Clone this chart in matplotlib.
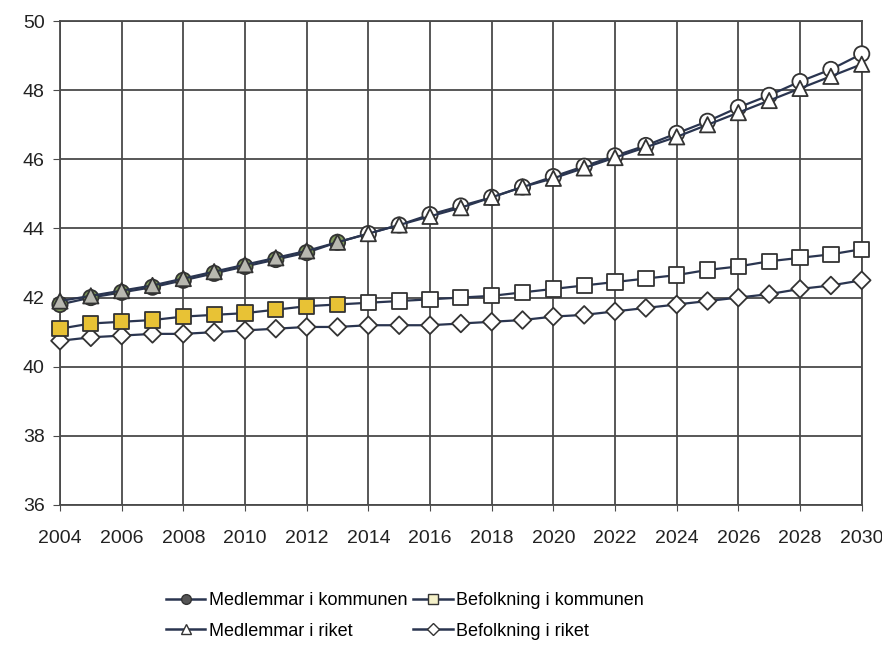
import matplotlib
matplotlib.use("Agg")
import matplotlib.pyplot as plt
from matplotlib.lines import Line2D
import numpy as np

plt.rcParams['font.family'] = ['Liberation Sans', 'DejaVu Sans']

years = list(range(2004, 2031))

medlemmar_kommunen = [41.80, 42.00, 42.15, 42.30, 42.50, 42.70, 42.90, 43.10, 43.30, 43.60,
                      43.85, 44.10, 44.40, 44.65, 44.90, 45.20, 45.50, 45.80, 46.10, 46.40,
                      46.75, 47.10, 47.50, 47.85, 48.25, 48.60, 49.05]
medlemmar_riket = [41.90, 42.05, 42.20, 42.35, 42.55, 42.75, 42.95, 43.15, 43.35, 43.60,
                   43.85, 44.10, 44.35, 44.60, 44.90, 45.20, 45.45, 45.75, 46.05, 46.35,
                   46.65, 47.00, 47.35, 47.70, 48.05, 48.40, 48.75]
befolkning_kommunen = [41.10, 41.25, 41.30, 41.35, 41.45, 41.50, 41.55, 41.65, 41.75, 41.80,
                       41.85, 41.90, 41.95, 42.00, 42.05, 42.15, 42.25, 42.35, 42.45, 42.55,
                       42.65, 42.80, 42.90, 43.05, 43.15, 43.25, 43.40]
befolkning_riket = [40.75, 40.85, 40.90, 40.95, 40.95, 41.00, 41.05, 41.10, 41.15, 41.15,
                    41.20, 41.20, 41.20, 41.25, 41.30, 41.35, 41.45, 41.50, 41.60, 41.70,
                    41.80, 41.90, 42.00, 42.10, 42.25, 42.35, 42.50]

labels = ["Medlemmar i kommunen", "Befolkning i kommunen",
          "Medlemmar i riket", "Befolkning i riket"]
xticks = list(range(2004, 2031, 2))
yticks = list(range(36, 51, 2))

# style
last_filled_year = 2013
line_col = "#2a3550"
grid_col = "#4a4a4a"

fig = plt.figure(figsize=(8.82, 6.47), dpi=100)
ax = fig.add_axes([0.068, 0.2195, 0.909, 0.748])

def series(vals, marker, fill_early, z, ms=11):
    ax.plot(years, vals, color=line_col, lw=1.6, zorder=z, clip_on=False)
    fc = [fill_early if y <= last_filled_year else "white" for y in years]
    ax.scatter(years, vals, marker=marker, s=ms**2, facecolors=fc,
               edgecolors="#333333", linewidths=1.3, zorder=z + 0.5, clip_on=False)

series(befolkning_riket, "D", "white", 3, ms=9)
series(befolkning_kommunen, "s", "#e8c235", 4, ms=11)
series(medlemmar_kommunen, "o", "#7f9a5c", 5, ms=11)
series(medlemmar_riket, "^", "#b8b8b0", 6, ms=11)

ax.set_xlim(2004, 2030)
ax.set_ylim(36, 50)
ax.set_xticks(xticks)
ax.set_yticks(yticks)
ax.grid(True, color=grid_col, lw=1.3)
ax.set_axisbelow(True)
for s in ax.spines.values():
    s.set_color(grid_col)
    s.set_linewidth(1.3)
ax.tick_params(axis='y', length=5, color=grid_col, labelsize=14, pad=6, labelcolor="#222222")
ax.tick_params(axis='x', length=4, color=grid_col, labelsize=14, pad=14, labelcolor="#222222")

h = {
    labels[0]: Line2D([], [], color=line_col, lw=1.8, marker="o", ms=7, mfc="#555555", mec="#333333"),
    labels[1]: Line2D([], [], color=line_col, lw=1.8, marker="s", ms=7, mfc="#f4f0c8", mec="#333333"),
    labels[2]: Line2D([], [], color=line_col, lw=1.8, marker="^", ms=7, mfc="white", mec="#333333"),
    labels[3]: Line2D([], [], color=line_col, lw=1.8, marker="D", ms=6, mfc="white", mec="#333333"),
}
order = [labels[0], labels[2], labels[1], labels[3]]
fig.legend([h[k] for k in order], order, ncol=2, loc="center", bbox_to_anchor=(0.459, 0.048),
           frameon=False, fontsize=13, handlelength=2.2, handletextpad=0.2,
           columnspacing=0.3, labelspacing=0.75)

fig.savefig("out.png", dpi=100)
